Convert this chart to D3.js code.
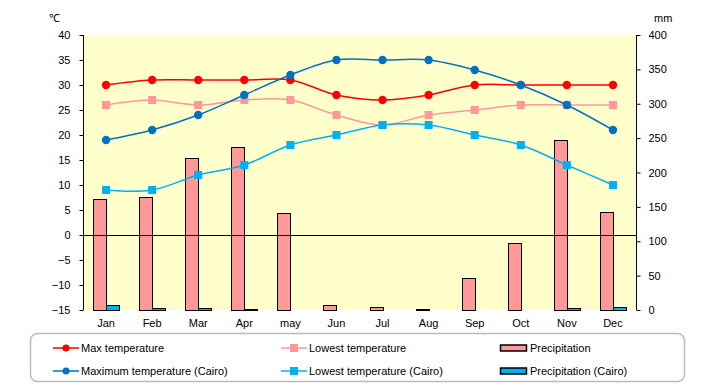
<!DOCTYPE html>
<html lang="en">
<head>
<meta charset="UTF-8">
<script src="https://cdn.jsdelivr.net/npm/d3@7/dist/d3.min.js"></script>
<style>
  body { margin: 0; background: #fff; }
  text { font-family: "Liberation Sans", Arial, sans-serif; font-size: 11px; fill: #000; }
</style>
</head>
<body>
<script>
var months = ["Jan", "Feb", "Mar", "Apr", "may", "Jun", "Jul", "Aug", "Sep", "Oct", "Nov", "Dec"];
var maxTemp = [30, 31, 31, 31, 31, 28, 27, 28, 30, 30, 30, 30];
var lowTemp = [26, 27, 26, 27, 27, 24, 22, 24, 25, 26, 26, 26];
var precip = [162, 164, 221, 237, 141, 8, 4, 1.5, 47, 97, 247, 142];
var maxCairo = [19, 21, 24, 28, 32, 35, 35, 35, 33, 30, 26, 21];
var lowCairo = [9, 9, 12, 14, 18, 20, 22, 22, 20, 18, 14, 10];
var precipCairo = [7, 3, 3, 1.5, 0, 0, 0, 0, 0, 0, 3, 4.5];
var tempTicks = [40, 35, 30, 25, 20, 15, 10, 5, 0, -5, -10, -15];
var mmTicks = [0, 50, 100, 150, 200, 250, 300, 350, 400];

var width = 720, height = 385;
var pLeft = 83, pRight = 636, pTop = 35, pBottom = 310;

var svg = d3.select("body").append("svg").attr("width", width).attr("height", height);

var x = d3.scaleBand().domain(months).range([pLeft, pRight]);
var yT = d3.scaleLinear().domain([-15, 40]).range([pBottom, pTop]);
var yP = d3.scaleLinear().domain([0, 400]).range([pBottom, pTop]);
var mid = function (i) { return x(months[i]) + x.bandwidth() / 2; };

svg.append("rect").attr("x", pLeft).attr("y", pTop).attr("width", pRight - pLeft).attr("height", pBottom - pTop).style("fill", "#ffffcc");

// bars
var bw = 13;
var barsA = precip.map(function (v, i) { return { v: v, i: i }; });
var barsB = precipCairo.map(function (v, i) { return { v: v, i: i }; }).filter(function (d) { return d.v > 0; });
svg.selectAll("rect.p").data(barsA).enter().append("rect")
  .attr("x", function (d) { return Math.round(mid(d.i) - bw) + 0.5; })
  .attr("y", function (d) { return Math.round(yP(d.v)) + 0.5; })
  .attr("width", bw).attr("height", function (d) { return pBottom - Math.round(yP(d.v)); })
  .style("fill", "#ff9999").style("stroke", "#000").style("stroke-width", 1);
svg.selectAll("rect.pc").data(barsB).enter().append("rect")
  .attr("x", function (d) { return Math.round(mid(d.i)) + 0.5; })
  .attr("y", function (d) { return Math.round(yP(d.v)) + 0.5; })
  .attr("width", bw).attr("height", function (d) { return pBottom - Math.round(yP(d.v)); })
  .style("fill", "#00b0f0").style("stroke", "#000").style("stroke-width", 1);

// zero line
svg.append("line").attr("x1", pLeft).attr("x2", pRight).attr("y1", yT(0) + 0.5).attr("y2", yT(0) + 0.5).style("stroke", "#000");

// axes
var axL = svg.append("g").attr("transform", "translate(" + (pLeft + 0.5) + ",0)")
  .call(d3.axisLeft(yT).tickValues(tempTicks).tickSize(4).tickPadding(9).tickFormat(function (d) { return d < 0 ? "\u2212" + Math.abs(d) : d; }));
var axR = svg.append("g").attr("transform", "translate(" + (pRight + 0.5) + ",0)")
  .call(d3.axisRight(yP).tickValues(mmTicks).tickSize(4).tickPadding(8));
[axL, axR].forEach(function (g) {
  g.select(".domain").attr("d", "M0," + pTop + "V" + pBottom).style("stroke", "#000");
  g.selectAll("text").style("font-size", "11px").style("font-family", "Liberation Sans, Arial, sans-serif").style("fill", "#000");
  g.selectAll(".tick line").style("stroke", "#000");
});

svg.selectAll("text.xl").data(months).enter().append("text")
  .attr("x", function (d, i) { return mid(i); })
  .attr("y", 327).attr("text-anchor", "middle").text(function (d) { return d; });

svg.append("text").attr("x", 49).attr("y", 22).text("\u2103");
svg.append("text").attr("x", 654).attr("y", 22).text("mm");

// lines
var series = [
  { data: lowTemp, color: "#ff9999", shape: "sq" },
  { data: maxTemp, color: "#ff0000", shape: "ci" },
  { data: lowCairo, color: "#00b0f0", shape: "sq" },
  { data: maxCairo, color: "#0070c0", shape: "ci" }
];
series.forEach(function (s) {
  var line = d3.line().x(function (d, i) { return mid(i); }).y(function (d) { return yT(d); }).curve(d3.curveCatmullRom);
  svg.append("path").datum(s.data).attr("d", line).style("fill", "none").style("stroke", s.color).style("stroke-width", 1.5);
  if (s.shape === "ci") {
    svg.selectAll(null).data(s.data).enter().append("circle")
      .attr("cx", function (d, i) { return mid(i); }).attr("cy", function (d) { return yT(d); }).attr("r", 4.2).style("fill", s.color);
  } else {
    svg.selectAll(null).data(s.data).enter().append("rect")
      .attr("x", function (d, i) { return mid(i) - 4; }).attr("y", function (d) { return yT(d) - 4; })
      .attr("width", 8).attr("height", 8).style("fill", s.color);
  }
});

// legend
svg.append("rect").attr("x", 30.5).attr("y", 333.5).attr("width", 654).attr("height", 48).attr("rx", 7)
  .style("fill", "#fff").style("stroke", "#bbb").style("stroke-width", 1.5);
var legend = [
  { label: "Max temperature", color: "#ff0000", shape: "ci", lx: 53, ly: 348 },
  { label: "Lowest temperature", color: "#ff9999", shape: "sq", lx: 281, ly: 348 },
  { label: "Precipitation", color: "#ff9999", shape: "bar", lx: 500, ly: 348 },
  { label: "Maximum temperature (Cairo)", color: "#0070c0", shape: "ci", lx: 53, ly: 371 },
  { label: "Lowest temperature (Cairo)", color: "#00b0f0", shape: "sq", lx: 281, ly: 371 },
  { label: "Precipitation (Cairo)", color: "#00b0f0", shape: "bar", lx: 500, ly: 371 }
];
var lg = svg.selectAll("g.lg").data(legend).enter().append("g")
  .attr("transform", function (d) { return "translate(" + d.lx + "," + d.ly + ")"; });
lg.each(function (d) {
  var g = d3.select(this);
  if (d.shape === "bar") {
    g.append("rect").attr("x", 0.5).attr("y", -3).attr("width", 26).attr("height", 6)
      .style("fill", d.color).style("stroke", "#000").style("stroke-width", 1.5);
    g.append("text").attr("x", 30).attr("y", 4).text(d.label);
  } else {
    g.append("line").attr("x1", 0).attr("x2", 26).attr("y1", 0).attr("y2", 0).style("stroke", d.color).style("stroke-width", 1.5);
    if (d.shape === "ci") g.append("circle").attr("cx", 13).attr("cy", 0).attr("r", 3.5).style("fill", d.color);
    else g.append("rect").attr("x", 9).attr("y", -4).attr("width", 8).attr("height", 8).style("fill", d.color);
    g.append("text").attr("x", 28).attr("y", 4).text(d.label);
  }
});
</script>
</body>
</html>
